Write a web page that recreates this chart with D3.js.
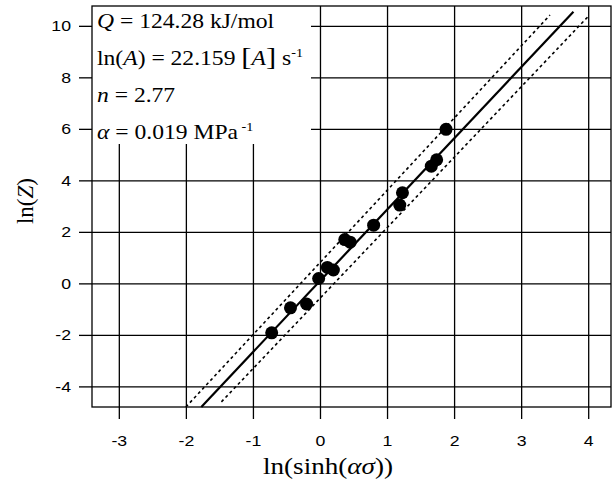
<!DOCTYPE html>
<html>
<head>
<meta charset="utf-8">
<script src="https://cdn.jsdelivr.net/npm/d3@7"></script>
<style>
  body { margin: 0; background: #fff; }
  svg { display: block; }
</style>
</head>
<body>
<div id="container"></div>
<script>
/* CONSTANTS AND GLOBALS */
const width = 613,
  height = 482,
  plotLeft = 92, plotRight = 611, plotTop = 6, plotBottom = 407,
  sx = 1.18; // text in the picture is stretched sideways

// DATA
const lnSinh = [-0.72, -0.44, -0.20, -0.02, 0.11, 0.20, 0.37, 0.45, 0.80, 1.19, 1.23, 1.66, 1.74, 1.88];
const lnZ    = [-1.92, -0.95, -0.80, 0.19, 0.62, 0.52, 1.70, 1.60, 2.26, 3.04, 3.52, 4.55, 4.80, 5.98];

// fit line and its band: [x0, y0, x1, y1]
const fitLine   = [-1.77, -4.80, 3.78, 10.55];
const bandUpper = [-2.00, -4.80, 3.43, 10.42];
const bandLower = [-1.47, -4.60, 4.02, 10.42];

const xTicks = [-3, -2, -1, 0, 1, 2, 3, 4];
const yTicks = [-4, -2, 0, 2, 4, 6, 8, 10];

const points = lnSinh.map((d, i) => ({ x: d, y: lnZ[i] }));

// SCALES
const xScale = d3.scaleLinear().domain([-3.40, 4.34]).range([plotLeft, plotRight]);
const yScale = d3.scaleLinear().domain([-4.80, 10.77]).range([plotBottom, plotTop]);

// CREATE SVG ELEMENT
const svg = d3.select("#container")
  .append("svg")
  .attr("width", width)
  .attr("height", height);

// GRID
svg.append("g")
  .attr("transform", `translate(0,${plotBottom})`)
  .call(d3.axisBottom(xScale).tickValues(xTicks).tickSize(-(plotBottom - plotTop)).tickFormat(""))
  .call(g => g.select(".domain").remove())
  .selectAll("line").attr("stroke", "#000").attr("stroke-width", 1.3);

svg.append("g")
  .attr("transform", `translate(${plotLeft},0)`)
  .call(d3.axisLeft(yScale).tickValues(yTicks).tickSize(-(plotRight - plotLeft)).tickFormat(""))
  .call(g => g.select(".domain").remove())
  .selectAll("line").attr("stroke", "#000").attr("stroke-width", 1.3);

// BUILD AND CALL AXES (outward ticks + labels)
const xAxis = svg.append("g")
  .attr("transform", `translate(0,${plotBottom})`)
  .call(d3.axisBottom(xScale).tickValues(xTicks).tickSize(12).tickPadding(16).tickFormat(d => String(d)));
xAxis.select(".domain").remove();
xAxis.selectAll("line").attr("stroke", "#000").attr("stroke-width", 1.3);
xAxis.selectAll("text")
  .attr("fill", "#000")
  .style("font-family", "'Liberation Sans', Arial, sans-serif")
  .style("font-size", "15px")
  .attr("transform", `scale(${sx},1)`);

const yAxis = svg.append("g")
  .attr("transform", `translate(${plotLeft},0)`)
  .call(d3.axisLeft(yScale).tickValues(yTicks).tickSize(13).tickFormat(d => String(d)));
yAxis.select(".domain").remove();
yAxis.selectAll("line").attr("stroke", "#000").attr("stroke-width", 1.3);
yAxis.selectAll("text")
  .attr("fill", "#000")
  .attr("x", -21 / sx)
  .style("font-family", "'Liberation Sans', Arial, sans-serif")
  .style("font-size", "15px")
  .attr("transform", `scale(${sx},1)`);

// LINES
const lineGen = d3.line().x(d => xScale(d[0])).y(d => yScale(d[1]));
const seg = a => [[a[0], a[1]], [a[2], a[3]]];

svg.append("path")
  .attr("d", lineGen(seg(bandUpper)))
  .attr("stroke", "#000").attr("stroke-width", 1.6).attr("stroke-dasharray", "3,3").attr("fill", "none");
svg.append("path")
  .attr("d", lineGen(seg(bandLower)))
  .attr("stroke", "#000").attr("stroke-width", 1.6).attr("stroke-dasharray", "3,3").attr("fill", "none");
svg.append("path")
  .attr("d", lineGen(seg(fitLine)))
  .attr("stroke", "#000").attr("stroke-width", 2.2).attr("fill", "none");

// POINTS
svg.selectAll("circle.pt")
  .data(points)
  .join("circle")
  .attr("class", "pt")
  .attr("cx", d => xScale(d.x))
  .attr("cy", d => yScale(d.y))
  .attr("r", 6.5)
  .attr("fill", "#000");

// TEXT BOX
svg.append("rect")
  .attr("x", plotLeft).attr("y", plotTop)
  .attr("width", 311 - plotLeft).attr("height", 144 - plotTop)
  .attr("fill", "#fff");

// FRAME
svg.append("rect")
  .attr("x", plotLeft).attr("y", plotTop)
  .attr("width", plotRight - plotLeft).attr("height", plotBottom - plotTop)
  .attr("fill", "none").attr("stroke", "#000").attr("stroke-width", 1.3);

const serif = "'Liberation Serif', 'Times New Roman', serif";

function label(x, y, size) {
  return svg.append("text")
    .attr("transform", `translate(${x},${y}) scale(${sx},1)`)
    .style("font-family", serif)
    .style("font-size", size + "px")
    .attr("fill", "#000");
}

// legend lines
let t = label(97, 28, 20);
t.append("tspan").style("font-style", "italic").text("Q");
t.append("tspan").text(" = 124.28 kJ/mol");

t = label(97, 65, 20);
t.append("tspan").text("ln(");
t.append("tspan").style("font-style", "italic").text("A");
t.append("tspan").text(") = 22.159  ");
t.append("tspan").style("font-size", "26px").text("[");
t.append("tspan").style("font-style", "italic").text("A");
t.append("tspan").style("font-size", "26px").text("]");
t.append("tspan").text(" s");
t.append("tspan").style("font-size", "12px").attr("dy", -8).text("-1");

t = label(97, 102, 20);
t.append("tspan").style("font-style", "italic").text("n");
t.append("tspan").text(" = 2.77");

t = label(97, 139, 20);
t.append("tspan").style("font-style", "italic").text("α");
t.append("tspan").text(" = 0.019 MPa");
t.append("tspan").style("font-size", "12px").attr("dy", -8).text(" -1");

// axis titles
t = label(328, 474, 23).attr("text-anchor", "middle");
t.append("tspan").text("ln(sinh(");
t.append("tspan").style("font-style", "italic").text("ασ");
t.append("tspan").text("))");

t = svg.append("text")
  .attr("transform", `translate(33,201) rotate(-90)`)
  .attr("text-anchor", "middle")
  .style("font-family", serif)
  .style("font-size", "23px")
  .attr("fill", "#000");
t.append("tspan").text("ln(");
t.append("tspan").style("font-style", "italic").text("Z");
t.append("tspan").text(")");
</script>
</body>
</html>
